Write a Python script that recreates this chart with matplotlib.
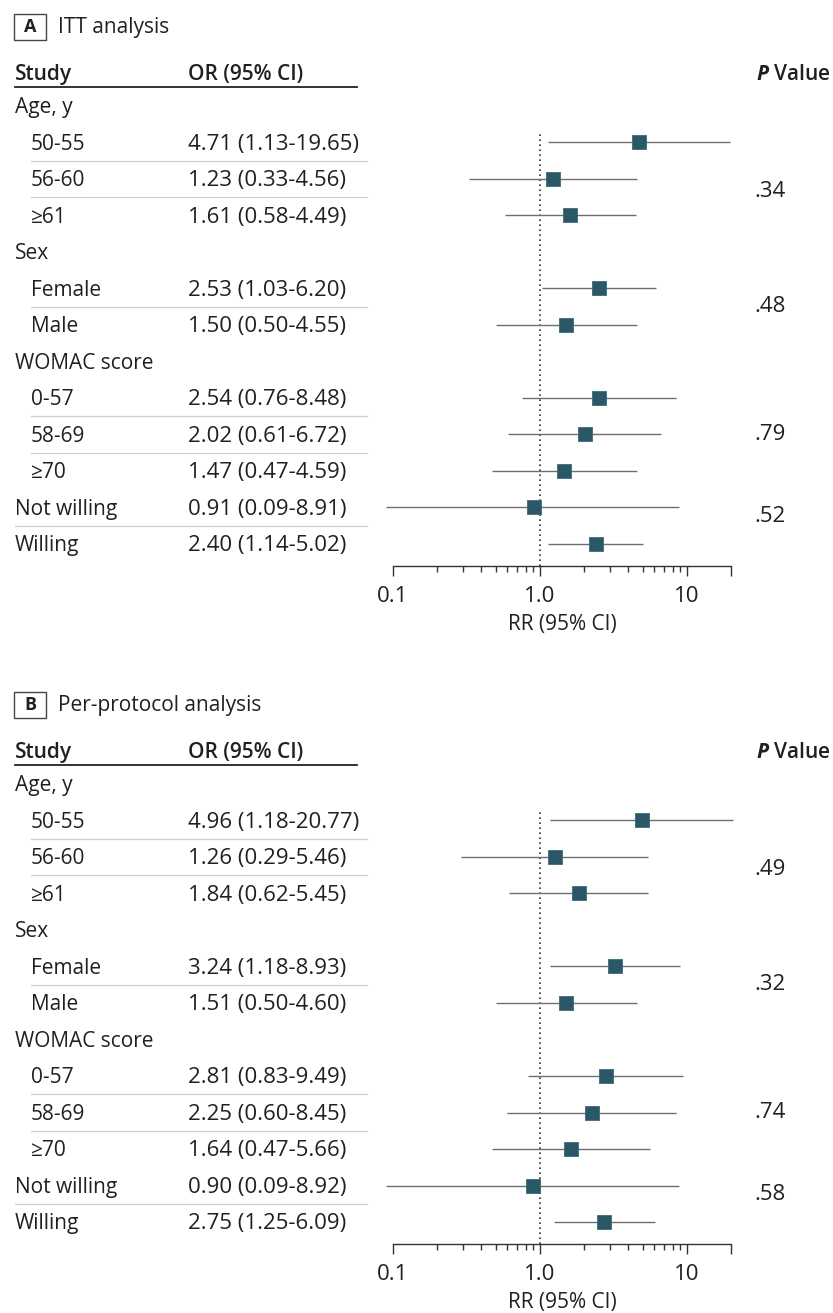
import matplotlib
matplotlib.use("Agg")
import matplotlib.pyplot as plt
import matplotlib.transforms as mtransforms
from matplotlib.patches import Rectangle
from matplotlib.lines import Line2D
from matplotlib.ticker import FixedLocator, NullFormatter

plt.rcParams["font.family"] = ["Open Sans", "DejaVu Sans"]
plt.rcParams["mathtext.fontset"] = "custom"
plt.rcParams["mathtext.it"] = "Open Sans:italic:bold"

# ---- data ----
rows = ["Age, y", "50-55", "56-60", "≥61", "Sex", "Female", "Male",
        "WOMAC score", "0-57", "58-69", "≥70", "Not willing", "Willing"]
indented = [False, True, True, True, False, True, True,
            False, True, True, True, False, False]
data_rows = [1, 2, 3, 5, 6, 8, 9, 10, 11, 12]   # rows that carry an estimate

itt_or = [4.71, 1.23, 1.61, 2.53, 1.50, 2.54, 2.02, 1.47, 0.91, 2.40]
itt_lo = [1.13, 0.33, 0.58, 1.03, 0.50, 0.76, 0.61, 0.47, 0.09, 1.14]
itt_hi = [19.65, 4.56, 4.49, 6.20, 4.55, 8.48, 6.72, 4.59, 8.91, 5.02]
itt_p = [".34", ".48", ".79", ".52"]

pp_or = [4.96, 1.26, 1.84, 3.24, 1.51, 2.81, 2.25, 1.64, 0.90, 2.75]
pp_lo = [1.18, 0.29, 0.62, 1.18, 0.50, 0.83, 0.60, 0.47, 0.09, 1.25]
pp_hi = [20.77, 5.46, 5.45, 8.93, 4.60, 9.49, 8.45, 5.66, 8.92, 6.09]
pp_p = [".49", ".32", ".74", ".58"]

separators = [(1, 2), (2, 3), (5, 6), (8, 9), (9, 10), (11, 12)]
p_rows = [2.3, 5.45, 8.95, 11.2]

major_ticks = [0.1, 1, 10, 20]
major_labels = ["0.1", "1.0", "10", ""]
minor_ticks = [0.2, 0.3, 0.4, 0.5, 0.6, 0.7, 0.8, 0.9, 2, 3, 4, 5, 6, 7, 8, 9]

# ---- layout (pixels) ----
W, H = 833, 1313
ROW0, PITCH = 106, 36.5
TXT = "#231f20"
SQ = "#2b5867"
FS = 15      # label text
FS_NUM = 16  # numeric column

fig = plt.figure(figsize=(W / 100, H / 100), dpi=100)
fig.patch.set_facecolor("white")
pix = mtransforms.Affine2D().scale(1 / W, -1 / H).translate(0, 1) + fig.transFigure


def panel(top, letter, title, ors, los, his, pvals):
    # forest axes: x = log RR, y = row index
    ax_top = top + 132
    ax_bot = top + 566
    ax = fig.add_axes([393 / W, 1 - ax_bot / H, (731 - 393) / W, (ax_bot - ax_top) / H])
    ax.set_xscale("log")
    ax.set_xlim(0.1, 20)
    ax.set_ylim((ax_bot - top - ROW0) / PITCH, (ax_top - top - ROW0) / PITCH)
    for s in ["top", "right", "left"]:
        ax.spines[s].set_visible(False)
    ax.spines["bottom"].set_color("#333333")
    ax.spines["bottom"].set_linewidth(1.0)
    ax.set_yticks([])
    ax.xaxis.set_major_locator(FixedLocator(major_ticks))
    ax.set_xticklabels(major_labels)
    ax.xaxis.set_minor_locator(FixedLocator(minor_ticks))
    ax.xaxis.set_minor_formatter(NullFormatter())
    ax.tick_params(axis="x", which="major", length=7.5, width=1.0, color="#333333",
                   labelsize=FS_NUM, labelcolor=TXT, pad=7)
    ax.tick_params(axis="x", which="minor", length=4.5, width=1.0, color="#333333")
    ax.set_xlabel("RR (95% CI)", fontsize=FS, color=TXT, labelpad=5)

    ax.axvline(1, color="#333333", lw=1.2, linestyle=(0, (1, 2)), zorder=1)

    ys = data_rows
    ax.hlines(ys, los, his, color="#6e6e6e", lw=1.0, clip_on=False, zorder=2)
    ax.plot(ors, ys, linestyle="none", marker="s", markersize=9.5, color=SQ,
            markeredgecolor="#3d6a78", markeredgewidth=0.6, clip_on=False, zorder=3)

    tr = mtransforms.blended_transform_factory(pix, ax.transData)

    # row labels and OR text
    for i, lab in enumerate(rows):
        fig.text(31 if indented[i] else 15, i + 0.2, lab, transform=tr,
                 fontsize=FS, color=TXT, va="baseline", ha="left")
    for k, r in enumerate(ys):
        s = f"{ors[k]:.2f} ({los[k]:.2f}-{his[k]:.2f})"
        fig.text(188, r + 0.2, s, transform=tr, fontsize=FS_NUM, color=TXT,
                 va="baseline", ha="left")

    # light separators
    for a, b in separators:
        x0 = 31 if indented[a] else 15
        fig.add_artist(Line2D([x0, 367], [(a + b) / 2] * 2, transform=tr,
                              color="#cfcfca", lw=0.9))

    # P values
    for pr, pv in zip(p_rows, pvals):
        fig.text(754, pr + 0.2, pv, transform=tr, fontsize=FS_NUM, color=TXT,
                 va="baseline", ha="left")

    # headers
    fig.text(15, -0.9 + 0.2, "Study", transform=tr, fontsize=FS, fontweight="semibold",
             color=TXT, va="baseline")
    fig.text(188, -0.9 + 0.2, "OR (95% CI)", transform=tr, fontsize=FS,
             fontweight="semibold", color=TXT, va="baseline")
    fig.text(756, -0.9 + 0.2, r"$P$ Value", transform=tr, fontsize=FS,
             fontweight="semibold", color=TXT, va="baseline")
    fig.add_artist(Line2D([15, 357], [-0.52, -0.52], transform=tr,
                          color="#222222", lw=1.3))

    # panel title with boxed letter
    fig.add_artist(Rectangle((14, top + 14), 32, 26, transform=pix, fill=False,
                             edgecolor="#444444", lw=1.0))
    fig.text(30, top + 27, letter, transform=pix, fontsize=13, fontweight="bold",
             color=TXT, ha="center", va="center")
    fig.text(58, top + 27, title, transform=pix, fontsize=FS, color=TXT,
             ha="left", va="center")


panel(0, "A", "ITT analysis", itt_or, itt_lo, itt_hi, itt_p)
panel(678, "B", "Per-protocol analysis", pp_or, pp_lo, pp_hi, pp_p)

fig.savefig("out.png", dpi=100, facecolor="white")
